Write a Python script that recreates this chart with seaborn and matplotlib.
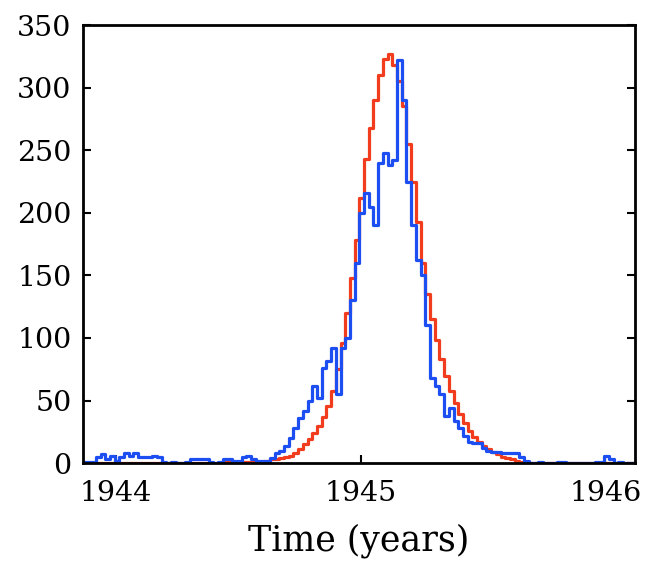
import numpy as np
import pandas as pd
import seaborn as sns
import matplotlib.pyplot as plt

start_year = 1943.87  # first weekly bin

# weekly counts, model (red) and observed (blue)
model_counts = [0] * 30 + [1] * 9 + [
    2, 3, 3, 4, 5, 6, 8, 11, 15, 19,
    24, 30, 37, 46, 58, 75, 96, 120, 148, 178,
    212, 243, 268, 290, 310, 323, 327, 318, 305, 285,
    255, 225, 193, 160, 135, 115, 98, 83, 70, 58,
    48, 39, 32, 26, 21, 17, 14, 11, 9, 7,
    5, 4, 3, 2, 1] + [0] * 24

observed_counts = [
    1, 1, 1, 5, 7, 3, 6, 2, 5, 8,
    6, 8, 5, 5, 5, 6, 5, 1, 0, 1,
    0, 0, 1, 3, 3, 3, 3, 1, 0, 1,
    3, 3, 2, 2, 5, 6, 3, 2, 2, 2,
    4, 8, 10, 14, 20, 28, 36, 42, 50, 62,
    52, 76, 82, 92, 55, 92, 100, 130, 160, 200,
    216, 205, 190, 240, 248, 238, 242, 322, 290, 225,
    190, 162, 150, 110, 68, 62, 55, 38, 44, 34,
    28, 22, 17, 16, 16, 12, 10, 9, 9, 8,
    8, 8, 8, 5, 2, 0, 0, 1, 0, 0,
    0, 1, 1, 0, 0, 0, 0, 0, 0, 1,
    1, 6, 3, 0, 1, 0, 0, 0]

weeks = np.arange(len(observed_counts))
df = pd.DataFrame({
    'time': start_year + weeks / 52,
    'model': model_counts[:len(weeks)],
    'observed': observed_counts,
})

sns.set_style('white')
plt.rcParams['font.family'] = ['DejaVu Serif']
plt.rcParams['text.color'] = 'black'
plt.rcParams['xtick.color'] = 'black'
plt.rcParams['ytick.color'] = 'black'
plt.rcParams['axes.labelcolor'] = 'black'

fig = plt.figure(figsize=(6.47, 5.69), dpi=100)
ax = fig.add_axes([0.128, 0.186, 0.853, 0.770])

sns.lineplot(data=df, x='time', y='model', color='#f23c1e', lw=2.3,
             drawstyle='steps-mid', ax=ax)
sns.lineplot(data=df, x='time', y='observed', color='#1d4ef2', lw=2.3,
             drawstyle='steps-mid', ax=ax)

ax.set_xlim(1943.865, 1946.12)
ax.set_ylim(0, 350)
ax.set_xticks([1944, 1945, 1946])
ax.set_yticks(range(0, 351, 50))
ax.tick_params(direction='in', length=6, width=1.5, labelsize=20.5,
               right=True, bottom=True, left=True)
ax.tick_params(axis='x', pad=12)
ax.tick_params(axis='y', pad=8)
for s in ax.spines.values():
    s.set_color('black')
    s.set_linewidth(2)
ax.set_xlabel('Time (years)', fontsize=25, labelpad=12)
ax.set_ylabel('')

fig.savefig('out.png', dpi=100)
